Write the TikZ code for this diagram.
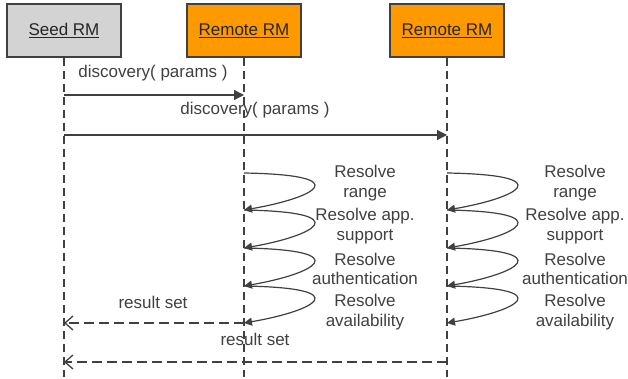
\documentclass[tikz,border=0pt]{standalone}
\usepackage{fontspec}
\setmainfont{Liberation Sans}
\usetikzlibrary{arrows.meta,positioning}

\definecolor{rmorange}{HTML}{FF9900}
\definecolor{rmgray}{HTML}{D3D3D3}
\definecolor{ink}{HTML}{404040}

\tikzset{
  actor/.style={draw=ink, line width=1.4pt, minimum width=114pt, minimum height=53pt,
    inner sep=0pt, text=black!85, font=\fontsize{17}{19.5}\selectfont},
  lifeline/.style={draw=ink, line width=1.4pt, dash pattern=on 8pt off 5pt},
  msg/.style={draw=ink, line width=1.2pt, -{Triangle[length=10pt,width=10pt]}},
  selfmsg/.style={draw=ink, line width=1.2pt, -{Triangle[length=8pt,width=8pt]}},
  ret/.style={draw=ink, line width=1.4pt, dash pattern=on 10pt off 5pt,
    -{Straight Barb[length=8pt,width=14pt,line width=1.3pt]}},
  lbl/.style={text=ink, font=\fontsize{17}{19.5}\selectfont, align=center, inner sep=0pt},
}

\begin{document}
\begin{tikzpicture}[x=1pt, y=-1pt]
  \useasboundingbox (0,0) rectangle (628,379);

  % Define nodes
  \node[actor, fill=rmgray]   (seed) at (64,30.5)  {\underline{Seed RM}};
  \node[actor, fill=rmorange] (rm1)  at (244,30.5) {\underline{Remote RM}};
  \node[actor, fill=rmorange] (rm2)  at (447,30.5) {\underline{Remote RM}};

  % Lifelines
  \coordinate (seedend) at (seed.south |- 0,377);
  \coordinate (rm1end)  at (rm1.south |- 0,377);
  \coordinate (rm2end)  at (rm2.south |- 0,377);
  \draw[lifeline] (seed.south) -- (seedend);
  \draw[lifeline] (rm1.south) -- (rm1end);
  \draw[lifeline] (rm2.south) -- (rm2end);

  % Discovery messages
  \coordinate (m1s) at (seed |- 0,95);
  \coordinate (m1e) at (rm1 |- 0,95);
  \coordinate (m2s) at (seed |- 0,135);
  \coordinate (m2e) at (rm2 |- 0,135);
  \draw[msg] (m1s) -- (m1e);
  \draw[msg] (m2s) -- (m2e);
  \node[lbl] (m1l) at (153,73)  {discovery( params )};
  \node[lbl] (m2l) at (255,110) {discovery( params )};

  % Resolve steps on each remote RM
  \foreach \r/\dx in {rm1/121,rm2/128} {
    \foreach \i/\y in {0/173,1/210,2/248,3/286,4/323}
      \coordinate (\r-\i) at (\r |- 0,\y);
    \foreach \i/\j in {0/1,1/2,2/3,3/4}
      \draw[selfmsg] (\r-\i) .. controls +(115,2) and +(70,-12) .. (\r-\j);
    \node[lbl] (\r-t1) at ([xshift=\dx pt]\r |- 0,183) {Resolve\\range};
    \node[lbl] (\r-t2) at ([xshift=\dx pt]\r |- 0,226) {Resolve app.\\support};
    \node[lbl] (\r-t3) at ([xshift=\dx pt]\r |- 0,269) {Resolve\\authentication};
    \node[lbl] (\r-t4) at ([xshift=\dx pt]\r |- 0,312) {Resolve\\availability};
  }

  % Result sets
  \coordinate (r1e) at (seed |- rm1-4);
  \coordinate (r2s) at (rm2 |- 0,362);
  \coordinate (r2e) at (seed |- 0,362);
  \draw[ret] (rm1-4) -- (r1e);
  \draw[ret] (r2s) -- (r2e);
  \node[lbl] (r1l) at (153,302) {result set};
  \node[lbl] (r2l) at (255,339) {result set};

\end{tikzpicture}
\end{document}
